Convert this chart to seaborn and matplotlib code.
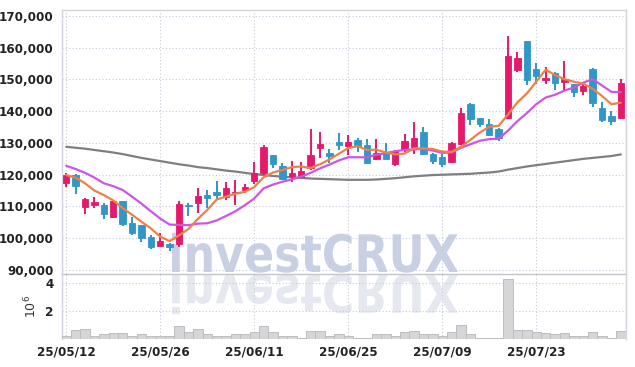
import numpy as np
import pandas as pd
import seaborn as sns
import matplotlib
matplotlib.use('Agg')
import matplotlib.pyplot as plt
from matplotlib.ticker import FuncFormatter
from matplotlib.textpath import TextPath
from matplotlib.patches import PathPatch
from matplotlib.font_manager import FontProperties
from matplotlib.transforms import Affine2D

# daily prices, thousands of won
open_ = [117.5, 120.0, 109.7, 110.5, 110.4, 106.6, 111.7, 104.7, 104.2, 100.5,
         97.7, 98.2, 98.3, 110.5, 111.2, 113.5, 114.7, 113.1, 114.2, 115.2,
         118.1, 120.4, 126.2, 122.7, 119.6, 119.4, 122.0, 128.5, 126.9, 130.3,
         129.1, 131.0, 129.4, 124.9, 126.7, 123.4, 127.8, 128.8, 133.5, 126.5,
         125.5, 124.1, 129.7, 142.3, 137.8, 135.9, 134.4, 137.8, 153.0, 162.1,
         153.3, 149.8, 152.0, 149.2, 148.5, 146.5, 153.3, 141.0, 138.5, 138.0]
close = [120.0, 116.5, 112.3, 111.3, 107.7, 111.7, 104.5, 101.7, 100.2, 97.3,
         99.0, 97.3, 110.9, 110.2, 113.3, 112.7, 113.7, 115.8, 114.5, 116.1,
         120.6, 128.8, 123.5, 118.7, 120.6, 121.3, 126.2, 129.8, 126.0, 129.5,
         130.4, 129.1, 123.8, 126.7, 125.0, 127.5, 130.6, 131.6, 126.6, 124.4,
         123.4, 130.0, 139.4, 137.6, 136.0, 132.5, 131.5, 157.4, 156.7, 149.8,
         151.2, 150.5, 148.8, 150.2, 146.0, 148.0, 142.7, 137.2, 137.0, 148.8]
high = [120.5, 120.3, 112.7, 112.9, 111.0, 112.0, 111.7, 106.8, 104.3, 101.0,
        101.5, 98.4, 111.6, 111.0, 115.7, 115.2, 118.0, 117.8, 118.3, 117.0,
        124.0, 129.4, 126.3, 123.8, 124.3, 124.0, 134.3, 133.5, 128.0, 133.0,
        132.5, 131.5, 131.3, 131.2, 130.1, 127.8, 132.7, 136.5, 135.0, 127.0,
        126.5, 130.3, 140.9, 142.5, 138.0, 137.5, 134.6, 163.7, 158.8, 162.1,
        155.1, 154.0, 152.3, 155.7, 148.7, 149.0, 153.5, 143.0, 140.2, 150.1]
low = [116.0, 114.0, 107.6, 109.4, 106.0, 106.3, 104.0, 101.0, 98.9, 96.5,
       97.5, 96.0, 97.2, 107.0, 108.0, 109.4, 112.3, 112.0, 110.5, 114.2,
       117.0, 120.0, 122.0, 118.3, 117.8, 119.0, 121.5, 125.2, 123.6, 127.8,
       126.2, 127.3, 123.3, 124.5, 124.8, 122.8, 127.3, 126.4, 126.3, 123.3,
       122.5, 123.6, 129.5, 135.7, 135.1, 132.3, 130.7, 137.5, 152.5, 148.3,
       148.6, 148.6, 146.7, 146.5, 144.4, 145.1, 141.4, 136.7, 135.7, 137.8]

# moving averages
ma5 = [119.9, 119.1, 117.3, 115.0, 113.6, 111.9, 109.5, 107.4, 105.2, 103.1,
       100.5, 99.1, 100.9, 102.9, 106.1, 108.9, 112.2, 113.1, 114.0, 114.6,
       116.1, 119.2, 120.7, 121.5, 122.4, 122.6, 122.1, 123.3, 124.8, 126.6,
       128.4, 129.0, 127.8, 127.9, 127.0, 126.4, 126.7, 128.3, 128.3, 128.1,
       127.3, 127.2, 128.8, 131.0, 133.3, 135.1, 135.4, 139.0, 142.8, 145.6,
       149.3, 153.1, 151.4, 150.1, 149.3, 148.7, 147.1, 144.8, 142.2, 142.7]
ma10 = [122.8, 121.8, 120.6, 119.1, 117.3, 116.4, 115.2, 113.1, 110.9, 108.5,
        106.2, 104.3, 104.2, 104.1, 104.6, 104.7, 105.6, 107.0, 108.5, 110.4,
        112.5, 115.7, 116.9, 117.8, 118.5, 119.4, 120.6, 122.0, 123.2, 124.5,
        125.5, 125.5, 125.5, 126.3, 126.8, 127.4, 127.8, 128.0, 128.1, 127.6,
        126.9, 127.0, 128.5, 129.6, 130.7, 131.2, 131.3, 133.9, 136.9, 139.4,
        142.2, 144.3, 145.2, 146.5, 147.5, 149.0, 150.1, 148.1, 146.1, 146.0]
ma_long = [128.8, 128.5, 128.2, 127.8, 127.4, 127.0, 126.5, 125.9, 125.3, 124.8,
           124.3, 123.8, 123.3, 122.9, 122.4, 122.1, 121.7, 121.3, 121.0, 120.6,
           120.2, 119.9, 119.6, 119.4, 119.2, 119.0, 118.8, 118.7, 118.6, 118.5,
           118.4, 118.4, 118.4, 118.5, 118.7, 118.9, 119.2, 119.5, 119.7, 119.9,
           120.0, 120.1, 120.2, 120.3, 120.5, 120.7, 121.0, 121.6, 122.1, 122.6,
           123.0, 123.4, 123.8, 124.2, 124.6, 125.0, 125.3, 125.6, 125.9, 126.4]

# volume, millions of shares
volume = [0.24, 0.62, 0.74, 0.24, 0.33, 0.41, 0.41, 0.24, 0.33, 0.24,
          0.24, 0.24, 0.91, 0.48, 0.69, 0.33, 0.24, 0.24, 0.33, 0.33,
          0.48, 0.91, 0.48, 0.24, 0.24, 0.10, 0.55, 0.55, 0.24, 0.33,
          0.24, 0.10, 0.10, 0.33, 0.33, 0.24, 0.48, 0.55, 0.33, 0.33,
          0.24, 0.48, 0.98, 0.33, 0.10, 0.05, 0.10, 4.24, 0.62, 0.62,
          0.50, 0.43, 0.33, 0.41, 0.24, 0.24, 0.48, 0.24, 0.05, 0.60]

tick_idx = [0, 10, 20, 30, 40, 50]
tick_labels = ['25/05/12', '25/05/26', '25/06/11', '25/06/25', '25/07/09', '25/07/23']

df = pd.DataFrame({
    'idx': np.arange(len(close)),
    'open': np.array(open_) * 1000, 'close': np.array(close) * 1000,
    'high': np.array(high) * 1000, 'low': np.array(low) * 1000,
    'ma5': np.array(ma5) * 1000, 'ma10': np.array(ma10) * 1000,
    'ma_long': np.array(ma_long) * 1000, 'volume': np.array(volume) * 1e6,
})

UP = '#e4196c'
DOWN = '#3196c8'
GRID = '#c6cadb'
SPINE = '#d2d3dc'

sns.set_style('white')
plt.rcParams['font.family'] = ['DejaVu Sans']
tick_font = FontProperties(family='DejaVu Sans', stretch='condensed', weight='bold', size=9.5)

fig = plt.figure(figsize=(6.35, 3.67), dpi=100)
ax = fig.add_axes([62 / 635, 1 - 274 / 367, (626 - 62) / 635, 264 / 367])
axv = fig.add_axes([62 / 635, 1 - 339 / 367, (626 - 62) / 635, 65 / 367], sharex=ax)
for a in (ax, axv):
    a.set_facecolor('none')

# candles
up = df[df.close >= df.open]
dn = df[df.close < df.open]
for part, col in ((up, UP), (dn, DOWN)):
    ax.vlines(part.idx, part.low, part.high, color=col, lw=1.4, zorder=3)
    ax.bar(part.idx, (part.close - part.open).abs().clip(lower=250),
           bottom=np.minimum(part.open, part.close), width=0.68,
           color=col, edgecolor=col, linewidth=0.6, zorder=4)

sns.lineplot(data=df, x='idx', y='ma_long', ax=ax, color='#7f7f7f', lw=1.6, zorder=2)
sns.lineplot(data=df, x='idx', y='ma10', ax=ax, color='#cc55e6', lw=1.6, zorder=5)
sns.lineplot(data=df, x='idx', y='ma5', ax=ax, color='#ee8146', lw=1.6, zorder=6)

ax.set_xlim(-0.45, 59.55)
ax.set_ylim(88730, 171890)
ax.set_yticks(range(90000, 170001, 10000))
ax.yaxis.set_major_formatter(FuncFormatter(lambda v, p: f'{int(v):,}'))
ax.set_xlabel('')
ax.set_ylabel('')
ax.tick_params(axis='x', labelbottom=False, length=0)
ax.tick_params(axis='y', length=0, pad=6, labelcolor='#222222')

# volume
sns.barplot(data=df, x='idx', y='volume', ax=axv, native_scale=True, width=1.0,
            color='#d6d6d8', edgecolor='#bdbdc1', linewidth=0.7, zorder=3)
axv.set_ylim(0, 4.62e6)
axv.set_yticks([2e6, 4e6])
axv.set_yticklabels(['2', '4'])
axv.set_xticks(tick_idx)
axv.set_xticklabels(tick_labels)
axv.set_xlabel('')
axv.set_ylabel(r'$10^6$', family='DejaVu Serif', fontsize=9, color='#333333', labelpad=4)
axv.tick_params(axis='y', length=0, pad=6, labelcolor='#222222')
axv.tick_params(axis='x', length=0, pad=5, labelcolor='#222222')
axv.set_xlim(-0.45, 59.55)

for lab in ax.get_yticklabels() + axv.get_yticklabels() + axv.get_xticklabels():
    lab.set_fontproperties(tick_font)

for a in (ax, axv):
    a.grid(True, color=GRID, linestyle=(0, (1, 2)), linewidth=0.8)
    a.set_axisbelow(True)
    for s in a.spines.values():
        s.set_color(SPINE)
        s.set_linewidth(1.0)
ax.spines['bottom'].set_color('#c4c5cc')
axv.spines['top'].set_visible(False)
axv.spines['bottom'].set_visible(False)

# watermark with its mirror image
tp = TextPath((0, 0), 'investCRUX', size=10,
              prop=FontProperties(family='DejaVu Sans', weight='bold'))
ext = tp.get_extents()
sx = 286 / ext.width / 635
sy = 40 / ext.height / 367
x0 = 172 / 635
base = 1 - 272 / 367
main_tr = Affine2D().translate(-ext.x0, 0).scale(sx, sy).translate(x0, base) + fig.transFigure
mirror_tr = Affine2D().translate(-ext.x0, 0).scale(sx, -sy).translate(x0, 1 - 275 / 367) + fig.transFigure
fig.add_artist(PathPatch(tp, transform=main_tr, color='#cad0e3', lw=0, zorder=-1))
fig.add_artist(PathPatch(tp, transform=mirror_tr, color='#e6e8f0', lw=0, zorder=-1))

fig.savefig('out.png', dpi=100, facecolor='white')
